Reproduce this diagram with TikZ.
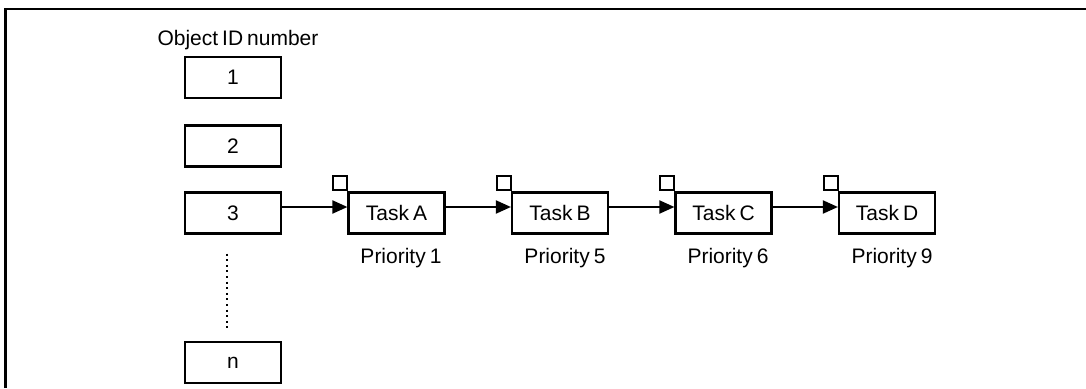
\documentclass[tikz,border=0pt]{standalone}
\usepackage{fontspec}
\setmainfont{Liberation Sans}
\usetikzlibrary{arrows.meta}
\newcommand\labelfont{\fontsize{21}{24}\selectfont\spaceskip 4pt plus 1pt\relax}

\begin{document}
\begin{tikzpicture}
  [x=1pt, y=-1pt,
   every node/.style={font=\labelfont},
   box/.style={draw, line width=2.2pt, minimum width=96pt, minimum height=41pt, inner sep=0pt},
   flag/.style={draw, line width=2pt, minimum size=14pt, inner sep=0pt},
   link/.style={line width=2pt, -{Triangle[length=15pt, width=13pt]}},
   vdots/.style={line width=2pt, dash pattern=on 2pt off 3.6pt}]
  \useasboundingbox (0, 0) rectangle (1086, 388);
  \draw[line width=2.5pt, line join=miter] (5.5, 388) -- (5.5, 9) -- (1086, 9);

  % object id table
  \node[anchor=base] (title) at (238, 45) {Object ID number};
  \node[box] (id1) at (233, 77.5) {1};
  \node[box] (id2) at (233, 146) {2};
  \node[box] (id3) at (233, 213) {3};
  \node[box] (idn) at (233, 362.5) {n};
  \draw[vdots, shorten <=19pt, shorten >=13pt]
    ([xshift=-6pt]id3.south) -- ([xshift=-6pt]idn.north);

  % waiting tasks
  \node[box] (tA) at (396.5, 213) {Task A};
  \node[box] (tB) at (560, 213) {Task B};
  \node[box] (tC) at (723.5, 213) {Task C};
  \node[box] (tD) at (887, 213) {Task D};
  \node[flag, anchor=south east] (fA) at ([xshift=1pt]tA.north west) {};
  \node[flag, anchor=south east] (fB) at ([xshift=1pt]tB.north west) {};
  \node[flag, anchor=south east] (fC) at ([xshift=1pt]tC.north west) {};
  \node[flag, anchor=south east] (fD) at ([xshift=1pt]tD.north west) {};
  \node[anchor=base] (pA) at (401, 263) {Priority 1};
  \node[anchor=base] (pB) at (565, 263) {Priority 5};
  \node[anchor=base] (pC) at (728, 263) {Priority 6};
  \node[anchor=base] (pD) at (892, 263) {Priority 9};

  \draw[link] ([yshift=6pt]id3.east) -- ([yshift=6pt]tA.west);
  \draw[link] ([yshift=6pt]tA.east) -- ([yshift=6pt]tB.west);
  \draw[link] ([yshift=6pt]tB.east) -- ([yshift=6pt]tC.west);
  \draw[link] ([yshift=6pt]tC.east) -- ([yshift=6pt]tD.west);
\end{tikzpicture}
\end{document}
